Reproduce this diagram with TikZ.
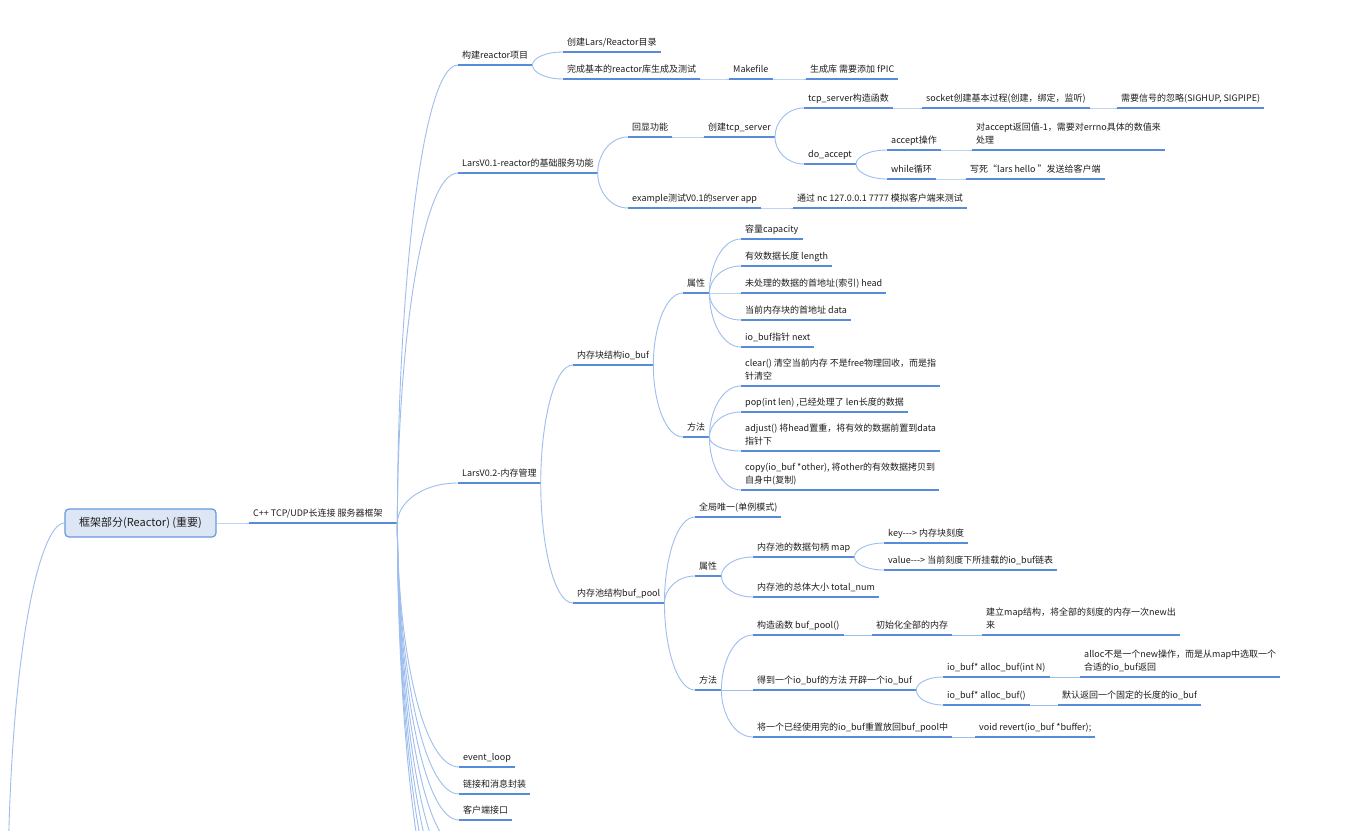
\documentclass[tikz,border=0pt]{standalone}
\usepackage{fontspec}
\setmainfont{Noto Sans CJK SC}
\usetikzlibrary{calc}
\definecolor{ul}{RGB}{88,140,216}
\definecolor{cn}{RGB}{158,190,238}
\definecolor{rootfill}{RGB}{220,230,244}
\definecolor{rootline}{RGB}{104,152,222}
\definecolor{txt}{RGB}{30,30,30}
\tikzset{
 topic/.style={inner xsep=4pt, inner ysep=4pt, text height=7pt, text depth=2pt, anchor=south west, font=\fontsize{9}{13}\selectfont, text=txt},
 topicml/.style={inner xsep=4pt, inner ysep=4pt, anchor=south west, align=left, font=\fontsize{9}{13}\selectfont, text=txt},
 uline/.style={draw=ul, line width=1.6pt},
 connector/.style={draw=cn, line width=0.9pt},
 rootbox/.style={draw=rootline, fill=rootfill, rounded corners=4pt, line width=1.2pt, minimum width=151pt, minimum height=28pt, inner sep=0pt, font=\fontsize{11}{13}\selectfont, text=txt},
}
\newcommand\brcp[2]{\draw[connector] let \p1=(#1), \p2=(#2) in (\p1) .. controls (\x1,{0.5*\y1+0.5*\y2}) and ({0.6*\x1+0.4*\x2},\y2) .. (\p2);}
\newcommand\tp[4]{\node[topic] (#1) at (#2,#3) {#4}; \draw[uline] (#1.south west) -- (#1.south east);}
\newcommand\tpm[4]{\node[topicml] (#1) at (#2,#3) {#4\rule[-2pt]{0pt}{2pt}}; \draw[uline] (#1.south west) -- (#1.south east);}
\begin{document}
\begin{tikzpicture}[x=1pt,y=-1pt]
\clip (0,0) rectangle (1351,830);
\fill[white] (0,0) rectangle (1351,830);
% root
\node[rootbox] (root) at (140.5,523) {框架部分(Reactor) (重要)};
\coordinate (up) at (8,880);
\draw[connector] (root.west) .. controls (40,523) and (10,650) .. (up);
% level 1
\node[topic] (cpp) at (249,523) {\makebox[140pt][l]{C++ TCP/UDP长连接 服务器框架}};
\draw[uline] (cpp.south west) -- (cpp.south east);
\tp{n1}{458}{65}{构建reactor项目}
\tp{a1}{563}{52}{创建Lars/Reactor目录}
\tp{a2}{563}{79}{完成基本的reactor库生成及测试}
\tp{mk}{729}{79}{Makefile}
\tp{fp}{806}{79}{生成库 需要添加 fPIC}
\tp{n2}{458}{173}{LarsV0.1-reactor的基础服务功能}
\tp{b1}{628}{137}{回显功能}
\tp{b11}{704}{137}{创建tcp\_server}
\tp{c1}{804}{108}{tcp\_server构造函数}
\tp{c11}{922}{108}{socket创建基本过程(创建，绑定，监听)}
\tp{c111}{1117}{108}{需要信号的忽略(SIGHUP, SIGPIPE)}
\tp{c2}{804}{164}{do\_accept}
\tp{d1}{887}{150}{accept操作}
\tpm{d11}{972}{150}{对accept返回值-1，需要对errno具体的数值来\\处理}
\tp{d2}{887}{179}{while循环}
\tp{d21}{966}{179}{写死“lars hello ”发送给客户端}
\tp{b2}{628}{208}{example测试V0.1的server app}
\tp{b21}{793}{208}{通过 nc 127.0.0.1 7777 模拟客户端来测试}
\tp{n3}{458}{483}{LarsV0.2-内存管理}
\tp{e1}{573}{365}{内存块结构io\_buf}
\tp{f1}{683}{293}{属性}
\tp{g1}{741}{239}{容量capacity}
\tp{g2}{741}{266}{有效数据长度 length}
\tp{g3}{741}{293}{未处理的数据的首地址(索引) head}
\tp{g4}{741}{320}{当前内存块的首地址 data}
\tp{g5}{741}{347}{io\_buf指针 next}
\tp{f2}{683}{437}{方法}
\tpm{h1}{741}{386}{clear() 清空当前内存 不是free物理回收，而是指\\针清空}
\tp{h2}{741}{412}{pop(int len) ,已经处理了 len长度的数据}
\tpm{h3}{741}{451}{adjust() 将head置重，将有效的数据前置到data\\指针下}
\tpm{h4}{741}{490}{copy(io\_buf *other), 将other的有效数据拷贝到\\自身中(复制)}
\tp{e2}{573}{603}{内存池结构buf\_pool}
\tp{i1}{695}{517}{全局唯一(单例模式)}
\tp{i2}{695}{576}{属性}
\tp{j1}{753}{557}{内存池的数据句柄 map}
\tp{k1}{884}{543}{key-{}-{}-> 内存块刻度}
\tp{k2}{884}{570}{value-{}-{}-> 当前刻度下所挂载的io\_buf链表}
\tp{j2}{753}{597}{内存池的总体大小 total\_num}
\tp{i3}{695}{690}{方法}
\tp{l1}{753}{635}{构造函数 buf\_pool()}
\tp{m1}{872}{635}{初始化全部的内存}
\tpm{m11}{982}{635}{建立map结构，将全部的刻度的内存一次new出\\来}
\tp{l2}{753}{690}{得到一个io\_buf的方法 开辟一个io\_buf}
\tp{o1}{943}{677}{io\_buf* alloc\_buf(int N)}
\tpm{o11}{1080}{677}{alloc不是一个new操作，而是从map中选取一个\\合适的io\_buf返回}
\tp{o2}{943}{705}{io\_buf* alloc\_buf()}
\tp{o21}{1058}{705}{默认返回一个固定的长度的io\_buf}
\tp{l3}{753}{737}{将一个已经使用完的io\_buf重置放回buf\_pool中}
\tp{p1}{975}{737}{void revert(io\_buf *buffer);}
\tp{ev}{459}{767}{event\_loop}
\tp{lk}{459}{794}{链接和消息封装}
\tp{kh}{459}{820}{客户端接口}
\coordinate (off1) at (459,847);
\coordinate (off2) at (459,874);
\coordinate (off3) at (459,901);
\coordinate (off4) at (459,928);
\coordinate (off5) at (459,955);
% connectors
\brcp{root.east}{cpp.south west}
\foreach \c in {n1,n2,n3,ev,lk,kh} {\brcp{cpp.south east}{\c.south west}}
\foreach \c in {off1,off2,off3,off4,off5} {\brcp{cpp.south east}{\c}}
\brcp{n1.south east}{a1.south west}
\brcp{n1.south east}{a2.south west}
\brcp{a2.south east}{mk.south west}
\brcp{mk.south east}{fp.south west}
\brcp{n2.south east}{b1.south west}
\brcp{n2.south east}{b2.south west}
\brcp{b1.south east}{b11.south west}
\brcp{b11.south east}{c1.south west}
\brcp{b11.south east}{c2.south west}
\brcp{c1.south east}{c11.south west}
\brcp{c11.south east}{c111.south west}
\brcp{c2.south east}{d1.south west}
\brcp{c2.south east}{d2.south west}
\brcp{d1.south east}{d11.south west}
\brcp{d2.south east}{d21.south west}
\brcp{b2.south east}{b21.south west}
\brcp{n3.south east}{e1.south west}
\brcp{n3.south east}{e2.south west}
\brcp{e1.south east}{f1.south west}
\brcp{e1.south east}{f2.south west}
\foreach \c in {g1,g2,g3,g4,g5} {\brcp{f1.south east}{\c.south west}}
\foreach \c in {h1,h2,h3,h4} {\brcp{f2.south east}{\c.south west}}
\brcp{e2.south east}{i1.south west}
\brcp{e2.south east}{i2.south west}
\brcp{e2.south east}{i3.south west}
\brcp{i2.south east}{j1.south west}
\brcp{i2.south east}{j2.south west}
\brcp{j1.south east}{k1.south west}
\brcp{j1.south east}{k2.south west}
\brcp{i3.south east}{l1.south west}
\brcp{i3.south east}{l2.south west}
\brcp{i3.south east}{l3.south west}
\brcp{l1.south east}{m1.south west}
\brcp{m1.south east}{m11.south west}
\brcp{l2.south east}{o1.south west}
\brcp{l2.south east}{o2.south west}
\brcp{o1.south east}{o11.south west}
\brcp{o2.south east}{o21.south west}
\brcp{l3.south east}{p1.south west}
\end{tikzpicture}
\end{document}
